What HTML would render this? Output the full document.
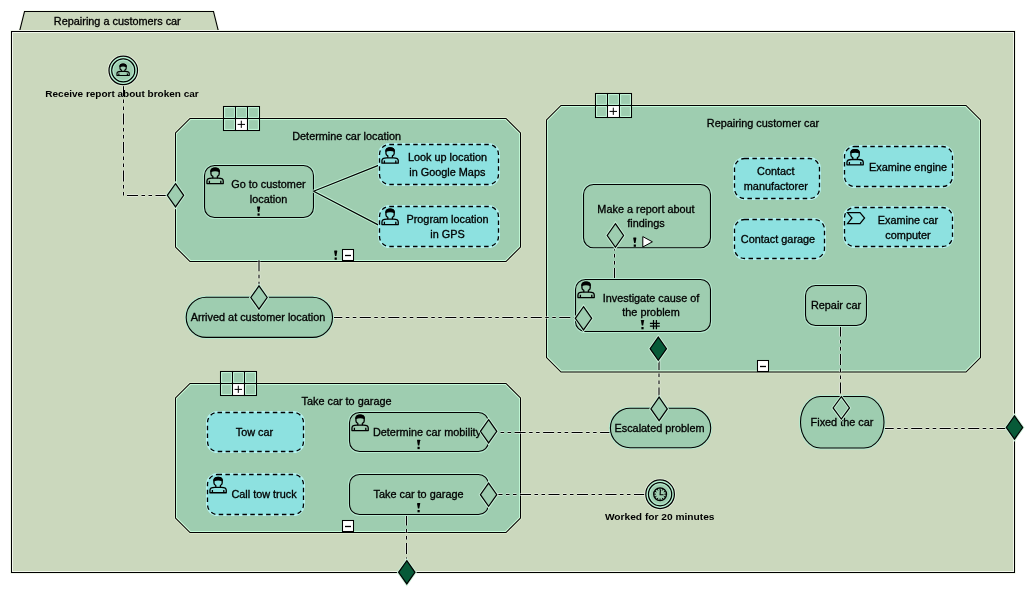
<!DOCTYPE html><html><head><meta charset="utf-8"><style>html,body{margin:0;padding:0;background:#fff;}svg{display:block;will-change:transform;}text{font-family:"Liberation Sans",sans-serif;fill:#000;stroke:#000;stroke-width:0.32px;} text.b{stroke:none;fill:#000;}</style></head><body>
<svg width="1035" height="597" viewBox="0 0 1035 597">
<defs><g id="person" fill="none" stroke="#000" stroke-linejoin="round"><path d="M6.5,10.6 L6.5,8.7 C5.3,8.2 4.65,7.4 4.65,6.3 L4.65,4.0 C4.65,1.8 6.3,0.65 8.8,0.65 C11.3,0.65 12.9,1.8 12.9,4.0 L12.9,6.3 C12.9,7.4 12.3,8.2 11.1,8.7 L11.1,10.6"/><path d="M4.65,3.9 C4.65,1.8 6.3,0.65 8.8,0.65 C11.3,0.65 12.9,1.8 12.9,3.9 C11,2.8 6.6,2.8 4.65,3.9 Z" fill="#000"/><path d="M0.65,15.95 L0.65,13.4 C0.65,11.6 2.6,10.6 5.5,10.6 L12.1,10.6 C15,10.6 16.95,11.6 16.95,13.4 L16.95,15.95 Z"/><path d="M3.1,13.2 V15.95 M14.5,13.2 V15.95"/></g></defs>
<polygon points="19.5,31.5 24.5,11.5 213.5,11.5 218.5,31.5" fill="#cbd8bd" stroke="#f6fcf0" stroke-width="3"/>
<polygon points="19.5,31.5 24.5,11.5 213.5,11.5 218.5,31.5" fill="#cbd8bd" stroke="#000" stroke-width="1.05"/>
<text transform="translate(117.3,24.5) scale(0.99,0.93)" font-size="11" text-anchor="middle">Repairing a customers car</text>
<rect x="11.5" y="31.5" width="1003" height="541" fill="#cbd8bd" stroke="#f6fcf0" stroke-width="3"/>
<rect x="11.5" y="31.5" width="1003" height="541" fill="none" stroke="#000" stroke-width="1.05"/>
<polygon points="190.0,118.5 506.0,118.5 520.5,133.0 520.5,247.0 506.0,261.5 190.0,261.5 175.5,247.0 175.5,133.0" fill="#9ecdb0" stroke="#dce8cc" stroke-width="3"/>
<polygon points="190.6,119.5 505.4,119.5 519.5,133.6 519.5,246.4 505.4,260.5 190.6,260.5 176.5,246.4 176.5,133.6" fill="none" stroke="#c4fcda" stroke-width="1"/>
<polygon points="190.0,118.5 506.0,118.5 520.5,133.0 520.5,247.0 506.0,261.5 190.0,261.5 175.5,247.0 175.5,133.0" fill="none" stroke="#000" stroke-width="1.05"/>
<polygon points="561.0,105.5 966.0,105.5 980.5,120.0 980.5,357.5 966.0,372 561.0,372 546.5,357.5 546.5,120.0" fill="#9ecdb0" stroke="#dce8cc" stroke-width="3"/>
<polygon points="561.6,106.5 965.4,106.5 979.5,120.6 979.5,356.9 965.4,371 561.6,371 547.5,356.9 547.5,120.6" fill="none" stroke="#c4fcda" stroke-width="1"/>
<polygon points="561.0,105.5 966.0,105.5 980.5,120.0 980.5,357.5 966.0,372 561.0,372 546.5,357.5 546.5,120.0" fill="none" stroke="#000" stroke-width="1.05"/>
<polygon points="190.0,383.5 506.0,383.5 520.5,398.0 520.5,518.0 506.0,532.5 190.0,532.5 175.5,518.0 175.5,398.0" fill="#9ecdb0" stroke="#dce8cc" stroke-width="3"/>
<polygon points="190.6,384.5 505.4,384.5 519.5,398.6 519.5,517.4 505.4,531.5 190.6,531.5 176.5,517.4 176.5,398.6" fill="none" stroke="#c4fcda" stroke-width="1"/>
<polygon points="190.0,383.5 506.0,383.5 520.5,398.0 520.5,518.0 506.0,532.5 190.0,532.5 175.5,518.0 175.5,398.0" fill="none" stroke="#000" stroke-width="1.05"/>
<path d="M123.5,85 L123.5,195.5 L167.3,195.5" fill="none" stroke="#fff" stroke-opacity="0.45" stroke-width="3" stroke-dasharray="11 3.5 3.5 3.5 3.5 3.5" stroke-dashoffset="0"/>
<path d="M123.5,85 L123.5,195.5 L167.3,195.5" fill="none" stroke="#000" stroke-width="1.05" stroke-dasharray="11 3.5 3.5 3.5 3.5 3.5" stroke-dashoffset="0"/>
<path d="M259,260.2 L259,285.8" fill="none" stroke="#fff" stroke-opacity="0.45" stroke-width="3" stroke-dasharray="11 3.5 3.5 3.5 3.5 3.5" stroke-dashoffset="0"/>
<path d="M259,260.2 L259,285.8" fill="none" stroke="#000" stroke-width="1.05" stroke-dasharray="11 3.5 3.5 3.5 3.5 3.5" stroke-dashoffset="0"/>
<path d="M331.3,317.5 L575.6,317.5" fill="none" stroke="#fff" stroke-opacity="0.45" stroke-width="3" stroke-dasharray="11 3.5 3.5 3.5 3.5 3.5" stroke-dashoffset="0"/>
<path d="M331.3,317.5 L575.6,317.5" fill="none" stroke="#000" stroke-width="1.05" stroke-dasharray="11 3.5 3.5 3.5 3.5 3.5" stroke-dashoffset="0"/>
<path d="M614.5,239.6 L614.5,279.5" fill="none" stroke="#fff" stroke-opacity="0.45" stroke-width="3" stroke-dasharray="11 3.5 3.5 3.5 3.5 3.5" stroke-dashoffset="0"/>
<path d="M614.5,239.6 L614.5,279.5" fill="none" stroke="#000" stroke-width="1.05" stroke-dasharray="11 3.5 3.5 3.5 3.5 3.5" stroke-dashoffset="0"/>
<path d="M659,359.1 L659,397" fill="none" stroke="#fff" stroke-opacity="0.45" stroke-width="3" stroke-dasharray="11 3.5 3.5 3.5 3.5 3.5" stroke-dashoffset="0"/>
<path d="M659,359.1 L659,397" fill="none" stroke="#000" stroke-width="1.05" stroke-dasharray="11 3.5 3.5 3.5 3.5 3.5" stroke-dashoffset="0"/>
<path d="M840.5,325.5 L840.5,397" fill="none" stroke="#fff" stroke-opacity="0.45" stroke-width="3" stroke-dasharray="11 3.5 3.5 3.5 3.5 3.5" stroke-dashoffset="0"/>
<path d="M840.5,325.5 L840.5,397" fill="none" stroke="#000" stroke-width="1.05" stroke-dasharray="11 3.5 3.5 3.5 3.5 3.5" stroke-dashoffset="0"/>
<path d="M486.1,432.5 L610.4,432.5" fill="none" stroke="#fff" stroke-opacity="0.45" stroke-width="3" stroke-dasharray="11 3.5 3.5 3.5 3.5 3.5" stroke-dashoffset="0"/>
<path d="M486.1,432.5 L610.4,432.5" fill="none" stroke="#000" stroke-width="1.05" stroke-dasharray="11 3.5 3.5 3.5 3.5 3.5" stroke-dashoffset="0"/>
<path d="M491.5,494.5 L644.6,494.5" fill="none" stroke="#fff" stroke-opacity="0.45" stroke-width="3" stroke-dasharray="11 3.5 3.5 3.5 3.5 3.5" stroke-dashoffset="0"/>
<path d="M491.5,494.5 L644.6,494.5" fill="none" stroke="#000" stroke-width="1.05" stroke-dasharray="11 3.5 3.5 3.5 3.5 3.5" stroke-dashoffset="0"/>
<path d="M882.7,428.5 L1006.3,428.5" fill="none" stroke="#fff" stroke-opacity="0.45" stroke-width="3" stroke-dasharray="11 3.5 3.5 3.5 3.5 3.5" stroke-dashoffset="0"/>
<path d="M882.7,428.5 L1006.3,428.5" fill="none" stroke="#000" stroke-width="1.05" stroke-dasharray="11 3.5 3.5 3.5 3.5 3.5" stroke-dashoffset="0"/>
<path d="M406.5,514.5 L406.5,560.5" fill="none" stroke="#fff" stroke-opacity="0.45" stroke-width="3" stroke-dasharray="11 3.5 3.5 3.5 3.5 3.5" stroke-dashoffset="0"/>
<path d="M406.5,514.5 L406.5,560.5" fill="none" stroke="#000" stroke-width="1.05" stroke-dasharray="11 3.5 3.5 3.5 3.5 3.5" stroke-dashoffset="0"/>
<circle cx="123.25" cy="70.4" r="14.25" fill="#9ecdb0" stroke="#e9f2e0" stroke-width="3"/>
<circle cx="123.25" cy="70.4" r="12.85" fill="none" stroke="#b8f2d4" stroke-width="2"/>
<circle cx="123.25" cy="70.4" r="14.25" fill="none" stroke="#000" stroke-width="1.25"/>
<circle cx="123.25" cy="70.4" r="11.5" fill="#9ecdb0" stroke="#000" stroke-width="1.25"/>
<circle cx="123.25" cy="70.4" r="10.2" fill="none" stroke="#b2e8cc" stroke-width="1"/>
<use href="#person" stroke-width="1.55" transform="translate(116.5,63.5) scale(0.75)"/>
<text transform="translate(122,96.8) scale(1.0,0.95)" font-size="10" font-weight="bold" class="b" text-anchor="middle">Receive report about broken car</text>
<rect x="223.5" y="106.5" width="12" height="12" fill="#9ecdb0" stroke="#000" stroke-width="1.05"/>
<rect x="224.6" y="107.6" width="9.8" height="9.8" fill="none" stroke="#c4f8da" stroke-width="1"/>
<rect x="223.5" y="118.5" width="12" height="12" fill="#9ecdb0" stroke="#000" stroke-width="1.05"/>
<rect x="224.6" y="119.6" width="9.8" height="9.8" fill="none" stroke="#c4f8da" stroke-width="1"/>
<rect x="235.5" y="106.5" width="12" height="12" fill="#9ecdb0" stroke="#000" stroke-width="1.05"/>
<rect x="236.6" y="107.6" width="9.8" height="9.8" fill="none" stroke="#c4f8da" stroke-width="1"/>
<rect x="235.5" y="118.5" width="12" height="12" fill="#fff" stroke="#000" stroke-width="1.05"/>
<rect x="247.5" y="106.5" width="12" height="12" fill="#9ecdb0" stroke="#000" stroke-width="1.05"/>
<rect x="248.6" y="107.6" width="9.8" height="9.8" fill="none" stroke="#c4f8da" stroke-width="1"/>
<rect x="247.5" y="118.5" width="12" height="12" fill="#9ecdb0" stroke="#000" stroke-width="1.05"/>
<rect x="248.6" y="119.6" width="9.8" height="9.8" fill="none" stroke="#c4f8da" stroke-width="1"/>
<path d="M237.60000000000002,124.4 H245.0 M241.3,120.7 V127.9" stroke="#000" stroke-width="1"/>
<text transform="translate(346.6,139.5) scale(0.99,0.93)" font-size="11" text-anchor="middle">Determine car location</text>
<rect x="204.5" y="165.5" width="109.0" height="52.0" rx="10" ry="10" fill="#9ecdb0" stroke="#b6ead0" stroke-width="3"/>
<rect x="204.5" y="165.5" width="109.0" height="52.0" rx="10" ry="10" fill="#9ecdb0" stroke="#000" stroke-width="1.1"/>
<use href="#person" stroke-width="1.3" transform="translate(206.3,167.6) scale(1.0)"/>
<text transform="translate(268.4,187.8) scale(0.99,0.93)" font-size="11" text-anchor="middle">Go to customer</text>
<text transform="translate(268.5,202.7) scale(0.99,0.93)" font-size="11" text-anchor="middle">location</text>
<path d="M257.0,206.8 Q257.0,206.4 257.40000000000003,206.4 H259.8 Q260.20000000000005,206.4 260.20000000000005,206.8 L259.3,212.0 H257.90000000000003 Z" fill="#000"/>
<rect x="257.5" y="213.4" width="2.2" height="2.3" fill="#000"/>
<path d="M313.6,191.2 L379.6,164.9 M313.6,191.2 L379.6,225.6" stroke="#c4f5d8" stroke-width="3" fill="none"/>
<path d="M313.6,191.2 L379.6,164.9 M313.6,191.2 L379.6,225.6" stroke="#000" stroke-width="1.2" fill="none"/>
<rect x="379.5" y="144.5" width="119.0" height="40.0" rx="10" ry="10" fill="#8de1e0" stroke="#b4f2f0" stroke-width="3"/>
<rect x="379.5" y="144.5" width="119.0" height="40.0" rx="10" ry="10" fill="#8de1e0" stroke="#000" stroke-width="1.3" stroke-dasharray="4.5 3.4"/>
<use href="#person" stroke-width="1.3" transform="translate(381.3,147.2) scale(1.0)"/>
<text transform="translate(447.5,161.2) scale(0.99,0.93)" font-size="11" text-anchor="middle">Look up location</text>
<text transform="translate(447.3,176.2) scale(0.99,0.93)" font-size="11" text-anchor="middle">in Google Maps</text>
<rect x="379.5" y="206.5" width="119.0" height="40.0" rx="10" ry="10" fill="#8de1e0" stroke="#b4f2f0" stroke-width="3"/>
<rect x="379.5" y="206.5" width="119.0" height="40.0" rx="10" ry="10" fill="#8de1e0" stroke="#000" stroke-width="1.3" stroke-dasharray="4.5 3.4"/>
<use href="#person" stroke-width="1.3" transform="translate(381.3,208.6) scale(1.0)"/>
<text transform="translate(447.5,222.8) scale(0.99,0.93)" font-size="11" text-anchor="middle">Program location</text>
<text transform="translate(447.5,237.8) scale(0.99,0.93)" font-size="11" text-anchor="middle">in GPS</text>
<path d="M334.09999999999997,250.9 Q334.09999999999997,250.5 334.5,250.5 H336.9 Q337.3,250.5 337.3,250.9 L336.4,256.1 H335.0 Z" fill="#000"/>
<rect x="334.59999999999997" y="257.5" width="2.2" height="2.3" fill="#000"/>
<rect x="342.5" y="249.5" width="11" height="11" fill="#fff" stroke="#000" stroke-width="1.05"/>
<path d="M345.0,255.5 H351.0" stroke="#000" stroke-width="1.3"/>
<polygon points="175.5,183.70000000000002 183.7,195.3 175.5,206.9 167.3,195.3" fill="#9ecdb0" stroke="#c8f0d8" stroke-width="3" stroke-linejoin="miter"/>
<polygon points="175.5,183.70000000000002 183.7,195.3 175.5,206.9 167.3,195.3" fill="#9ecdb0" stroke="#000" stroke-width="1.2"/>
<rect x="186.2" y="297.3" width="146.3" height="40.099999999999966" rx="20" ry="20" fill="#9ecdb0" stroke="#b6ead0" stroke-width="3"/>
<rect x="186.2" y="297.3" width="146.3" height="40.099999999999966" rx="20" ry="20" fill="#9ecdb0" stroke="#000" stroke-width="1.1"/>
<text transform="translate(258,320.8) scale(0.99,0.93)" font-size="11" text-anchor="middle">Arrived at customer location</text>
<polygon points="259,285.9 267.2,297.5 259,309.1 250.8,297.5" fill="#9ecdb0" stroke="#c8f0d8" stroke-width="3" stroke-linejoin="miter"/>
<polygon points="259,285.9 267.2,297.5 259,309.1 250.8,297.5" fill="#9ecdb0" stroke="#000" stroke-width="1.2"/>
<rect x="595.5" y="93.5" width="12" height="12" fill="#9ecdb0" stroke="#000" stroke-width="1.05"/>
<rect x="596.6" y="94.6" width="9.8" height="9.8" fill="none" stroke="#c4f8da" stroke-width="1"/>
<rect x="595.5" y="105.5" width="12" height="12" fill="#9ecdb0" stroke="#000" stroke-width="1.05"/>
<rect x="596.6" y="106.6" width="9.8" height="9.8" fill="none" stroke="#c4f8da" stroke-width="1"/>
<rect x="607.5" y="93.5" width="12" height="12" fill="#9ecdb0" stroke="#000" stroke-width="1.05"/>
<rect x="608.6" y="94.6" width="9.8" height="9.8" fill="none" stroke="#c4f8da" stroke-width="1"/>
<rect x="607.5" y="105.5" width="12" height="12" fill="#fff" stroke="#000" stroke-width="1.05"/>
<rect x="619.5" y="93.5" width="12" height="12" fill="#9ecdb0" stroke="#000" stroke-width="1.05"/>
<rect x="620.6" y="94.6" width="9.8" height="9.8" fill="none" stroke="#c4f8da" stroke-width="1"/>
<rect x="619.5" y="105.5" width="12" height="12" fill="#9ecdb0" stroke="#000" stroke-width="1.05"/>
<rect x="620.6" y="106.6" width="9.8" height="9.8" fill="none" stroke="#c4f8da" stroke-width="1"/>
<path d="M609.5999999999999,111.4 H617.0 M613.3,107.7 V114.9" stroke="#000" stroke-width="1"/>
<text transform="translate(763,127) scale(0.99,0.93)" font-size="11" text-anchor="middle">Repairing customer car</text>
<rect x="583.5" y="184.5" width="127.0" height="63.19999999999999" rx="10" ry="10" fill="#9ecdb0" stroke="#b6ead0" stroke-width="3"/>
<rect x="583.5" y="184.5" width="127.0" height="63.19999999999999" rx="10" ry="10" fill="#9ecdb0" stroke="#000" stroke-width="1.1"/>
<text transform="translate(646,212.5) scale(0.99,0.93)" font-size="11" text-anchor="middle">Make a report about</text>
<text transform="translate(646,227.4) scale(0.99,0.93)" font-size="11" text-anchor="middle">findings</text>
<polygon points="615.4,223.7 623.6,235.5 615.4,247.3 607.1999999999999,235.5" fill="#9ecdb0" stroke="#c8f0d8" stroke-width="3" stroke-linejoin="miter"/>
<polygon points="615.4,223.7 623.6,235.5 615.4,247.3 607.1999999999999,235.5" fill="#9ecdb0" stroke="#000" stroke-width="1.2"/>
<path d="M633.1999999999999,237.9 Q633.1999999999999,237.5 633.5999999999999,237.5 H636.0 Q636.4,237.5 636.4,237.9 L635.5,243.1 H634.0999999999999 Z" fill="#000"/>
<rect x="633.6999999999999" y="244.5" width="2.2" height="2.3" fill="#000"/>
<path d="M642.8,236.6 L652.4,241.8 L642.8,247 Z" fill="#fff" stroke="#000" stroke-width="1"/>
<rect x="575.5" y="279.5" width="135.0" height="52.0" rx="10" ry="10" fill="#9ecdb0" stroke="#b6ead0" stroke-width="3"/>
<rect x="575.5" y="279.5" width="135.0" height="52.0" rx="10" ry="10" fill="#9ecdb0" stroke="#000" stroke-width="1.1"/>
<use href="#person" stroke-width="1.3" transform="translate(577.3,281.6) scale(1.0)"/>
<text transform="translate(651,301.6) scale(0.99,0.93)" font-size="11" text-anchor="middle">Investigate cause of</text>
<text transform="translate(651,316.3) scale(0.99,0.93)" font-size="11" text-anchor="middle">the problem</text>
<path d="M640.9,320.4 Q640.9,320 641.3,320 H643.7 Q644.1,320 644.1,320.4 L643.2,325.6 H641.8 Z" fill="#000"/>
<rect x="641.4" y="327.0" width="2.2" height="2.3" fill="#000"/>
<path d="M653.5,320 V329.2 M656.4,320 V329.2 M649.9,323.3 H659.8 M649.9,326.1 H659.8" stroke="#000" stroke-width="1.25"/>
<polygon points="583.5,306.7 591.7,318.3 583.5,329.90000000000003 575.3,318.3" fill="#9ecdb0" stroke="#c8f0d8" stroke-width="3" stroke-linejoin="miter"/>
<polygon points="583.5,306.7 591.7,318.3 583.5,329.90000000000003 575.3,318.3" fill="#9ecdb0" stroke="#000" stroke-width="1.2"/>
<rect x="734.5" y="158.5" width="85.0" height="40.0" rx="10" ry="10" fill="#8de1e0" stroke="#b4f2f0" stroke-width="3"/>
<rect x="734.5" y="158.5" width="85.0" height="40.0" rx="10" ry="10" fill="#8de1e0" stroke="#000" stroke-width="1.3" stroke-dasharray="4.5 3.4"/>
<text transform="translate(775.8,175) scale(0.99,0.93)" font-size="11" text-anchor="middle">Contact</text>
<text transform="translate(775.8,190) scale(0.99,0.93)" font-size="11" text-anchor="middle">manufactorer</text>
<rect x="734.5" y="219.5" width="90.0" height="39.0" rx="10" ry="10" fill="#8de1e0" stroke="#b4f2f0" stroke-width="3"/>
<rect x="734.5" y="219.5" width="90.0" height="39.0" rx="10" ry="10" fill="#8de1e0" stroke="#000" stroke-width="1.3" stroke-dasharray="4.5 3.4"/>
<text transform="translate(778,243) scale(0.99,0.93)" font-size="11" text-anchor="middle">Contact garage</text>
<rect x="844.5" y="146.5" width="108.0" height="40.0" rx="10" ry="10" fill="#8de1e0" stroke="#b4f2f0" stroke-width="3"/>
<rect x="844.5" y="146.5" width="108.0" height="40.0" rx="10" ry="10" fill="#8de1e0" stroke="#000" stroke-width="1.3" stroke-dasharray="4.5 3.4"/>
<use href="#person" stroke-width="1.3" transform="translate(846.3,148.9) scale(1.0)"/>
<text transform="translate(908,170.5) scale(0.99,0.93)" font-size="11" text-anchor="middle">Examine engine</text>
<rect x="844.5" y="207.5" width="108.0" height="39.0" rx="10" ry="10" fill="#8de1e0" stroke="#b4f2f0" stroke-width="3"/>
<rect x="844.5" y="207.5" width="108.0" height="39.0" rx="10" ry="10" fill="#8de1e0" stroke="#000" stroke-width="1.3" stroke-dasharray="4.5 3.4"/>
<path d="M847.5,212.6 H860 L864.6,218 L860,223.6 H847.5 L852,218 Z" fill="none" stroke="#000" stroke-width="1.2"/>
<text transform="translate(908,224) scale(0.99,0.93)" font-size="11" text-anchor="middle">Examine car</text>
<text transform="translate(908,239) scale(0.99,0.93)" font-size="11" text-anchor="middle">computer</text>
<rect x="805.5" y="285.5" width="61.0" height="40.0" rx="10" ry="10" fill="#9ecdb0" stroke="#b6ead0" stroke-width="3"/>
<rect x="805.5" y="285.5" width="61.0" height="40.0" rx="10" ry="10" fill="#9ecdb0" stroke="#000" stroke-width="1.1"/>
<text transform="translate(836,308.6) scale(0.99,0.93)" font-size="11" text-anchor="middle">Repair car</text>
<polygon points="658.3,337.09999999999997 666.5,348.7 658.3,360.3 650.0999999999999,348.7" fill="#075a38" stroke="#c8f0d8" stroke-width="3" stroke-linejoin="miter"/>
<polygon points="658.3,337.09999999999997 666.5,348.7 658.3,360.3 650.0999999999999,348.7" fill="#075a38" stroke="#000" stroke-width="1.2"/>
<rect x="757.5" y="360.5" width="11" height="11" fill="#fff" stroke="#000" stroke-width="1.05"/>
<path d="M760.0,366.5 H766.0" stroke="#000" stroke-width="1.3"/>
<rect x="610.4" y="408.3" width="100.30000000000007" height="39.39999999999998" rx="19.7" ry="19.7" fill="#9ecdb0" stroke="#b6ead0" stroke-width="3"/>
<rect x="610.4" y="408.3" width="100.30000000000007" height="39.39999999999998" rx="19.7" ry="19.7" fill="#9ecdb0" stroke="#000" stroke-width="1.1"/>
<text transform="translate(659.5,431.8) scale(0.99,0.93)" font-size="11" text-anchor="middle">Escalated problem</text>
<polygon points="659.1,397.09999999999997 667.3000000000001,408.9 659.1,420.7 650.9,408.9" fill="#9ecdb0" stroke="#c8f0d8" stroke-width="3" stroke-linejoin="miter"/>
<polygon points="659.1,397.09999999999997 667.3000000000001,408.9 659.1,420.7 650.9,408.9" fill="#9ecdb0" stroke="#000" stroke-width="1.2"/>
<circle cx="660.1" cy="494.2" r="14.3" fill="#9ecdb0" stroke="#e9f2e0" stroke-width="3"/>
<circle cx="660.1" cy="494.2" r="12.9" fill="none" stroke="#b8f2d4" stroke-width="2"/>
<circle cx="660.1" cy="494.2" r="14.3" fill="none" stroke="#000" stroke-width="1.25"/>
<circle cx="660.1" cy="494.2" r="11.6" fill="#9ecdb0" stroke="#000" stroke-width="1.25"/>
<circle cx="660.1" cy="494.2" r="10.3" fill="none" stroke="#b2e8cc" stroke-width="1"/>
<circle cx="660.1" cy="494.2" r="6.4" fill="#9ecdb0" stroke="#000" stroke-width="1.3"/>
<path d="M660.10,489.90 L660.10,488.30 M662.25,490.48 L663.05,489.09 M663.82,492.05 L665.21,491.25 M664.40,494.20 L666.00,494.20 M663.82,496.35 L665.21,497.15 M662.25,497.92 L663.05,499.31 M660.10,498.50 L660.10,500.10 M657.95,497.92 L657.15,499.31 M656.38,496.35 L654.99,497.15 M655.80,494.20 L654.20,494.20 M656.38,492.05 L654.99,491.25 M657.95,490.48 L657.15,489.09" stroke="#000" stroke-width="1"/>
<path d="M660.4,489.9 L660.1,494.8 L663.5,494.8" fill="none" stroke="#000" stroke-width="1.1"/>
<text transform="translate(659.7,520) scale(1.0,0.95)" font-size="10.2" font-weight="bold" class="b" text-anchor="middle">Worked for 20 minutes</text>
<rect x="800.5" y="396.5" width="83.5" height="51.5" rx="20" ry="25.7" fill="#9ecdb0" stroke="#b6ead0" stroke-width="3"/>
<rect x="800.5" y="396.5" width="83.5" height="51.5" rx="20" ry="25.7" fill="#9ecdb0" stroke="#000" stroke-width="1.1"/>
<text transform="translate(842,426) scale(0.99,0.93)" font-size="11" text-anchor="middle">Fixed the car</text>
<polygon points="841.3,396.7 849.5,407.9 841.3,419.09999999999997 833.0999999999999,407.9" fill="none" stroke="#c8f0d8" stroke-width="3" stroke-linejoin="miter"/>
<polygon points="841.3,396.7 849.5,407.9 841.3,419.09999999999997 833.0999999999999,407.9" fill="none" stroke="#000" stroke-width="1.2"/>
<polygon points="1014.5,415.9 1022.7,427.5 1014.5,439.1 1006.3,427.5" fill="#075a38" stroke="#c8f0d8" stroke-width="3" stroke-linejoin="miter"/>
<polygon points="1014.5,415.9 1022.7,427.5 1014.5,439.1 1006.3,427.5" fill="#075a38" stroke="#000" stroke-width="1.2"/>
<rect x="220.5" y="371.5" width="12" height="12" fill="#9ecdb0" stroke="#000" stroke-width="1.05"/>
<rect x="221.6" y="372.6" width="9.8" height="9.8" fill="none" stroke="#c4f8da" stroke-width="1"/>
<rect x="220.5" y="383.5" width="12" height="12" fill="#9ecdb0" stroke="#000" stroke-width="1.05"/>
<rect x="221.6" y="384.6" width="9.8" height="9.8" fill="none" stroke="#c4f8da" stroke-width="1"/>
<rect x="232.5" y="371.5" width="12" height="12" fill="#9ecdb0" stroke="#000" stroke-width="1.05"/>
<rect x="233.6" y="372.6" width="9.8" height="9.8" fill="none" stroke="#c4f8da" stroke-width="1"/>
<rect x="232.5" y="383.5" width="12" height="12" fill="#fff" stroke="#000" stroke-width="1.05"/>
<rect x="244.5" y="371.5" width="12" height="12" fill="#9ecdb0" stroke="#000" stroke-width="1.05"/>
<rect x="245.6" y="372.6" width="9.8" height="9.8" fill="none" stroke="#c4f8da" stroke-width="1"/>
<rect x="244.5" y="383.5" width="12" height="12" fill="#9ecdb0" stroke="#000" stroke-width="1.05"/>
<rect x="245.6" y="384.6" width="9.8" height="9.8" fill="none" stroke="#c4f8da" stroke-width="1"/>
<path d="M234.60000000000002,389.4 H242.0 M238.3,385.7 V392.9" stroke="#000" stroke-width="1"/>
<text transform="translate(346.5,405) scale(0.99,0.93)" font-size="11" text-anchor="middle">Take car to garage</text>
<rect x="207.5" y="412.5" width="96.0" height="39.0" rx="10" ry="10" fill="#8de1e0" stroke="#b4f2f0" stroke-width="3"/>
<rect x="207.5" y="412.5" width="96.0" height="39.0" rx="10" ry="10" fill="#8de1e0" stroke="#000" stroke-width="1.3" stroke-dasharray="4.5 3.4"/>
<text transform="translate(254.5,435.5) scale(0.99,0.93)" font-size="11" text-anchor="middle">Tow car</text>
<rect x="207.5" y="474.5" width="96.0" height="40.0" rx="10" ry="10" fill="#8de1e0" stroke="#b4f2f0" stroke-width="3"/>
<rect x="207.5" y="474.5" width="96.0" height="40.0" rx="10" ry="10" fill="#8de1e0" stroke="#000" stroke-width="1.3" stroke-dasharray="4.5 3.4"/>
<use href="#person" stroke-width="1.3" transform="translate(209.3,476.8) scale(1.0)"/>
<text transform="translate(264,497.5) scale(0.99,0.93)" font-size="11" text-anchor="middle">Call tow truck</text>
<rect x="349.5" y="412.5" width="139.0" height="39.0" rx="10" ry="10" fill="#9ecdb0" stroke="#b6ead0" stroke-width="3"/>
<rect x="349.5" y="412.5" width="139.0" height="39.0" rx="10" ry="10" fill="#9ecdb0" stroke="#000" stroke-width="1.1"/>
<use href="#person" stroke-width="1.3" transform="translate(351.3,414.6) scale(1.0)"/>
<text transform="translate(427,435.5) scale(0.99,0.93)" font-size="11" text-anchor="middle">Determine car mobility</text>
<path d="M417.0,440.2 Q417.0,439.8 417.40000000000003,439.8 H419.8 Q420.20000000000005,439.8 420.20000000000005,440.2 L419.3,445.40000000000003 H417.90000000000003 Z" fill="#000"/>
<rect x="417.5" y="446.8" width="2.2" height="2.3" fill="#000"/>
<polygon points="488.6,419.7 496.8,431.3 488.6,442.90000000000003 480.40000000000003,431.3" fill="#9ecdb0" stroke="#c8f0d8" stroke-width="3" stroke-linejoin="miter"/>
<polygon points="488.6,419.7 496.8,431.3 488.6,442.90000000000003 480.40000000000003,431.3" fill="#9ecdb0" stroke="#000" stroke-width="1.2"/>
<rect x="349.5" y="474.5" width="139.0" height="40.0" rx="10" ry="10" fill="#9ecdb0" stroke="#b6ead0" stroke-width="3"/>
<rect x="349.5" y="474.5" width="139.0" height="40.0" rx="10" ry="10" fill="#9ecdb0" stroke="#000" stroke-width="1.1"/>
<text transform="translate(418.5,497.6) scale(0.99,0.93)" font-size="11" text-anchor="middle">Take car to garage</text>
<path d="M417.0,503.4 Q417.0,503 417.40000000000003,503 H419.8 Q420.20000000000005,503 420.20000000000005,503.4 L419.3,508.6 H417.90000000000003 Z" fill="#000"/>
<rect x="417.5" y="510.0" width="2.2" height="2.3" fill="#000"/>
<polygon points="488.6,483.09999999999997 496.8,494.7 488.6,506.3 480.40000000000003,494.7" fill="#9ecdb0" stroke="#c8f0d8" stroke-width="3" stroke-linejoin="miter"/>
<polygon points="488.6,483.09999999999997 496.8,494.7 488.6,506.3 480.40000000000003,494.7" fill="#9ecdb0" stroke="#000" stroke-width="1.2"/>
<rect x="342.5" y="520.5" width="11" height="11" fill="#fff" stroke="#000" stroke-width="1.05"/>
<path d="M345.0,526.5 H351.0" stroke="#000" stroke-width="1.3"/>
<polygon points="406.8,560.6999999999999 415.0,572.3 406.8,583.9 398.6,572.3" fill="#075a38" stroke="#c8f0d8" stroke-width="3" stroke-linejoin="miter"/>
<polygon points="406.8,560.6999999999999 415.0,572.3 406.8,583.9 398.6,572.3" fill="#075a38" stroke="#000" stroke-width="1.2"/>
</svg></body></html>
